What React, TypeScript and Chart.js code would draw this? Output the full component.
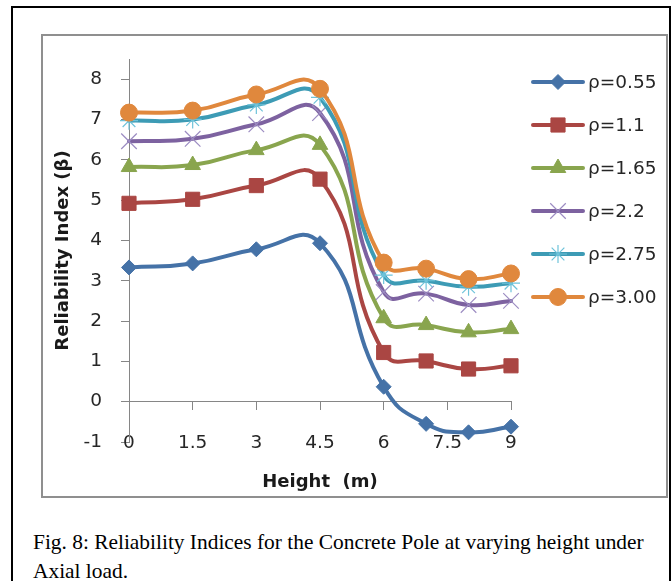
import React, { useEffect, useRef } from 'react';
import { Chart, registerables } from 'chart.js';
import { drawPoint } from 'chart.js/helpers';

Chart.register(...registerables);

// Height along the pole (m)
const heights = [0, 1.5, 3, 4.5, 6, 7, 8, 9];

// Reliability index β for each ρ
const seriesLabels = ['ρ=0.55', 'ρ=1.1', 'ρ=1.65', 'ρ=2.2', 'ρ=2.75', 'ρ=3.00'];
const beta055 = [3.33, 3.43, 3.78, 3.93, 0.37, -0.55, -0.76, -0.62];
const beta110 = [4.92, 5.02, 5.36, 5.52, 1.22, 1.01, 0.81, 0.89];
const beta165 = [5.82, 5.87, 6.24, 6.37, 2.07, 1.9, 1.72, 1.8];
const beta220 = [6.46, 6.52, 6.88, 7.16, 2.72, 2.68, 2.4, 2.5];
const beta275 = [6.97, 7.0, 7.36, 7.55, 3.14, 3.0, 2.85, 2.94];
const beta300 = [7.17, 7.22, 7.62, 7.76, 3.45, 3.3, 3.04, 3.18];
const seriesValues = [beta055, beta110, beta165, beta220, beta275, beta300];

// Axis ranges
const xMin = 0;
const xMax = 9;
const xStep = 1.5;
const yMin = -1;
const yMax = 8.5;
const yStep = 1;
const yTickValues = [-1, 0, 1, 2, 3, 4, 5, 6, 7, 8];

const xTitle = 'Height  (m)';
const yTitle = 'Reliability Index (β)';
const captionLine1 = 'Fig. 8: Reliability Indices for the Concrete Pole at varying height under';
const captionLine2 = 'Axial load.';

// Series appearance
const lineColors = ['#4572A7', '#AA4643', '#89A54E', '#7D62A0', '#3D9BB5', '#E0883D'];
const markerFill = ['#4572A7', '#AA4643', '#89A54E', 'rgba(0,0,0,0)', 'rgba(0,0,0,0)', '#E0883D'];
const markerStroke = ['#4572A7', '#AA4643', '#89A54E', '#9C8CC2', '#6EC3DA', '#E0883D'];
const markerShapes = ['rectRot', 'rect', 'triangle', 'crossRot', 'star', 'circle'];
const markerRadius = [7.5, 10, 9, 11, 9, 8.5];
const markerBorder = [1, 1, 1, 1.2, 1.2, 1];

const axisGrey = '#868686';
const tickFont = { family: '"DejaVu Sans", sans-serif', size: 18.5 };
const titleFont = { family: '"DejaVu Sans", sans-serif', size: 18, weight: 'bold' as const };
const textColor = '#262626';

const sideLegend = {
  id: 'sideLegend',
  afterDatasetsDraw(chart: any) {
    const ctx: CanvasRenderingContext2D = chart.ctx;
    const area = chart.chartArea;
    const x1 = area.right + 22;
    const x2 = x1 + 50;
    const cx = (x1 + x2) / 2;
    const tx = x2 + 5;
    chart.data.datasets.forEach((ds: any, i: number) => {
      const y = area.top + 23 + i * 43;
      ctx.save();
      ctx.strokeStyle = ds.borderColor;
      ctx.lineWidth = 4;
      ctx.lineCap = 'round';
      ctx.beginPath();
      ctx.moveTo(x1, y);
      ctx.lineTo(x2, y);
      ctx.stroke();
      ctx.fillStyle = ds.pointBackgroundColor;
      ctx.strokeStyle = ds.pointBorderColor;
      ctx.lineWidth = ds.pointBorderWidth;
      ctx.lineCap = 'butt';
      drawPoint(
        ctx,
        { pointStyle: ds.pointStyle, radius: ds.pointRadius, rotation: 0, borderWidth: ds.pointBorderWidth },
        cx,
        y
      );
      ctx.fillStyle = textColor;
      ctx.font = `${tickFont.size}px ${tickFont.family}`;
      ctx.textAlign = 'left';
      ctx.textBaseline = 'middle';
      ctx.fillText(ds.label, tx, y + 1);
      ctx.restore();
    });
  },
};

function ReliabilityChart() {
  const canvasRef = useRef<HTMLCanvasElement | null>(null);

  useEffect(() => {
    const canvas = canvasRef.current;
    if (!canvas) return;
    const datasets = seriesValues.map((vals, i) => ({
      label: seriesLabels[i],
      data: heights.map((h, j) => ({ x: h, y: vals[j] })),
      borderColor: lineColors[i],
      backgroundColor: lineColors[i],
      borderWidth: 4,
      borderCapStyle: 'round' as const,
      borderJoinStyle: 'round' as const,
      tension: 0.5,
      pointStyle: markerShapes[i],
      pointRadius: markerRadius[i],
      pointBackgroundColor: markerFill[i],
      pointBorderColor: markerStroke[i],
      pointBorderWidth: markerBorder[i],
      clip: false as const,
      order: seriesValues.length - 1 - i,
    }));

    const chart = new Chart(canvas, {
      type: 'line',
      data: { datasets },
      plugins: [sideLegend],
      options: {
        animation: false,
        responsive: false,
        devicePixelRatio: 1,
        layout: { padding: { top: 23, right: 155, bottom: 54, left: 0 } },
        plugins: {
          legend: { display: false },
          tooltip: { enabled: false },
        },
        scales: {
          x: {
            type: 'linear',
            position: { y: 0 } as any,
            min: xMin,
            max: xMax,
            ticks: {
              stepSize: xStep,
              padding: 22,
              font: tickFont,
              color: textColor,
              maxRotation: 0,
              autoSkip: false,
            },
            grid: { drawOnChartArea: false, tickLength: 8, color: axisGrey },
            border: { color: axisGrey, width: 1 },
            title: {
              display: true,
              text: xTitle,
              font: titleFont,
              color: '#1a1a1a',
              padding: { top: -4, bottom: 0 },
            },
          },
          y: {
            type: 'linear',
            min: yMin,
            max: yMax,
            afterBuildTicks: (axis: any) => {
              axis.ticks = yTickValues.map((v) => ({ value: v }));
            },
            afterFit: (axis: any) => {
              axis.width = 86;
              axis.paddingTop = 0;
              axis.paddingBottom = 0;
            },
            ticks: {
              stepSize: yStep,
              padding: 19,
              font: tickFont,
              color: textColor,
            },
            grid: { drawOnChartArea: false, tickLength: 8, color: axisGrey },
            border: { color: axisGrey, width: 1 },
            title: {
              display: true,
              text: yTitle,
              font: titleFont,
              color: '#1a1a1a',
              padding: { top: 10, bottom: 0 },
            },
          },
        },
      },
    });

    return () => {
      chart.destroy();
    };
  }, []);

  return (
    <canvas
      ref={canvasRef}
      width={623}
      height={460}
      style={{ position: 'absolute', left: 43, top: 36, width: 623, height: 460, display: 'block' }}
    />
  );
}

export default function App() {
  return (
    <div
      style={{
        position: 'absolute',
        left: 0,
        top: 0,
        width: 672,
        height: 581,
        overflow: 'hidden',
        background: '#ffffff',
      }}
    >
      <div
        style={{
          position: 'absolute',
          left: 11,
          top: 6,
          width: 660,
          height: 620,
          border: '2px solid #000',
          boxSizing: 'border-box',
        }}
      />
      <div
        style={{
          position: 'absolute',
          left: 41,
          top: 34,
          width: 627,
          height: 464,
          border: '2px solid #8f8f8f',
          boxSizing: 'border-box',
          background: '#fff',
        }}
      />
      <ReliabilityChart />
      <div
        style={{
          position: 'absolute',
          left: 33,
          top: 528,
          fontFamily: '"Liberation Serif", "Times New Roman", serif',
          fontSize: 21.4,
          lineHeight: '29px',
          color: '#000',
          whiteSpace: 'nowrap',
        }}
      >
        {captionLine1}
        <br />
        {captionLine2}
      </div>
    </div>
  );
}
